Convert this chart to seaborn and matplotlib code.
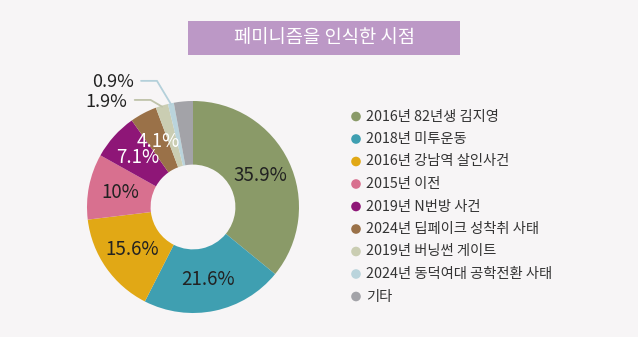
import numpy as np
import matplotlib
matplotlib.use("Agg")
import matplotlib.pyplot as plt
from matplotlib.patches import Rectangle
import seaborn as sns

categories = ["2016년 82년생 김지영", "2018년 미투운동", "2016년 강남역 살인사건", "2015년 이전",
              "2019년 N번방 사건", "2024년 딥페이크 성착취 사태", "2019년 버닝썬 게이트",
              "2024년 동덕여대 공학전환 사태", "기타"]
values = [35.9, 21.6, 15.6, 10, 7.1, 4.1, 1.9, 0.9, 2.9]
value_labels = ["35.9%", "21.6%", "15.6%", "10%", "7.1%", "4.1%", "1.9%", "0.9%", ""]
colors = ["#8a9a68", "#3f9fb1", "#e1a815", "#d8708f", "#8e1677", "#9a7148", "#cacdb2", "#bad4dc", "#a3a3a8"]
title = "페미니즘을 인식한 시점"

sns.set_theme(style="white")
plt.rcParams['font.family'] = ['Noto Sans CJK KR', 'DejaVu Sans']
BG = "#f7f5f6"

W, H = 638, 337
fig = plt.figure(figsize=(W / 100, H / 100), dpi=100, facecolor=BG)

# title box
fig.patches.append(Rectangle((188 / W, 1 - 55 / H), (460 - 188) / W, (55 - 21) / H,
                             transform=fig.transFigure, facecolor="#bc98c6", edgecolor="none"))
fig.text(324 / W, 1 - 38 / H, title, ha="center", va="center", color="white", fontsize=13.5)

# donut
cx, cy, R = 193, 207, 106
ax = fig.add_axes([(cx - R) / W, (H - cy - R) / H, 2 * R / W, 2 * R / H])
ax.set_facecolor(BG)
wedges, _ = ax.pie(values, colors=colors, startangle=90, counterclock=False,
                   radius=1.0, wedgeprops=dict(width=0.6, edgecolor="none"))
ax.set_xlim(-1, 1)
ax.set_ylim(-1, 1)
ax.set_aspect("equal")
ax.axis("off")

outside = {6: (-0.62, 0.99, 1.01), 7: (-0.56, 1.18, 1.19)}
line_cols = {6: "#bfc3aa", 7: "#b4d0da"}
for i, (w, lab) in enumerate(zip(wedges, value_labels)):
    if not lab:
        continue
    ang = np.deg2rad((w.theta1 + w.theta2) / 2)
    if i in outside:
        tx, ty, ly = outside[i]
        ax.text(tx, ty, lab, ha="right", va="center", fontsize=13, color="#222222", clip_on=False)
        ex, ey = 0.99 * np.cos(ang), 0.99 * np.sin(ang)
        kx = tx + 0.22
        ax.plot([tx + 0.07, kx, ex], [ly, ly, ey], color=line_cols[i], lw=1.3, clip_on=False)
        continue
    r = 0.7
    col = "white" if i in (4, 5) else "#222222"
    ax.text(r * np.cos(ang), r * np.sin(ang), lab, ha="center", va="center",
            fontsize=13.5, color=col)

# legend
lax = fig.add_axes([0, 0, 1, 1], facecolor="none")
lax.set_xlim(0, W)
lax.set_ylim(H, 0)
lax.axis("off")
y0, dy = 116.5, 22.5
for i, (c, lab) in enumerate(zip(colors, categories)):
    y = y0 + dy * i
    lax.scatter([356], [y], s=48, color=c, edgecolor="none")
    lax.text(366, y, lab, ha="left", va="center", fontsize=10.3, color="#333333")

fig.savefig("out.png", dpi=100, facecolor=BG)
